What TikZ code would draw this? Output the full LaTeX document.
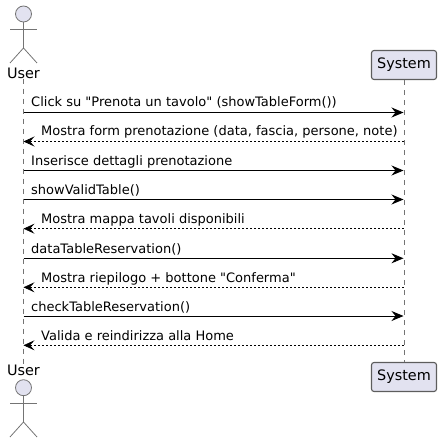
\documentclass[tikz,border=0pt]{standalone}
\usepackage{fontspec}
\setmainfont{DejaVu Sans}[Ligatures=TeXOff]
\usepackage{xcolor}
\usetikzlibrary{arrows.meta}
\definecolor{partfill}{HTML}{E2E2F0}
\definecolor{partline}{HTML}{181818}
\tikzset{
  partbox/.style={draw=partline!70,fill=partfill,rounded corners=2.5pt,line width=1.1pt,
    minimum width=65pt,minimum height=29pt,inner sep=0pt,font=\fontsize{14.4}{16}\selectfont},
  actorname/.style={inner sep=0pt,font=\fontsize{14.4}{16}\selectfont},
  actorline/.style={draw=partline!60,line width=.8pt},
  lifeline/.style={draw=partline!60,line width=.7pt,dash pattern=on 5pt off 5pt},
  callmsg/.style={draw=black,line width=.9pt,-{Stealth[length=12pt,width=10pt,inset=4pt]}},
  backmsg/.style={draw=black,line width=.7pt,dash pattern=on 2pt off 2pt,
    -{Stealth[length=11pt,width=10pt,inset=4.5pt]}},
  msgtext/.style={anchor=base west,inner sep=0pt,font=\fontsize{13}{14}\selectfont},
}
\begin{document}
\begin{tikzpicture}[x=1pt,y=-1pt]
  \useasboundingbox (0,0) rectangle (442,443);
  % participants
  \node[actorname] (usertop) at (23.5,73) {User};
  \node[actorname] (userbot) at (23.5,370) {User};
  \node[partbox] (systop) at (404,65) {System};
  \node[partbox] (sysbot) at (404,377) {System};
  % lifelines
  \draw[lifeline] (usertop.south) -- (userbot.north);
  \draw[lifeline] (systop.south) -- (sysbot.north);
  % actors
  \draw[actorline,fill=partfill] (23.5,14) circle (8);
  \draw[actorline] (23.5,22) -- (23.5,48) (10,29) -- (37,29);
  \draw[actorline] (10,63) -- (23.5,48) -- (37,63);
  \draw[actorline,fill=partfill] (23.5,387.7) circle (8);
  \draw[actorline] (23.5,395.7) -- (23.5,422) (10,403) -- (37,403);
  \draw[actorline] (10,437) -- (23.5,422) -- (37,437);
  % ends of the messages
  \coordinate (u1) at (23.5,112.5);
  \coordinate (s1) at (403.5,112.5);
  \coordinate (u2) at (23.5,141.5);
  \coordinate (s2) at (403.5,141.5);
  \coordinate (u3) at (23.5,170.5);
  \coordinate (s3) at (403.5,170.5);
  \coordinate (u4) at (23.5,199.5);
  \coordinate (s4) at (403.5,199.5);
  \coordinate (u5) at (23.5,228.7);
  \coordinate (s5) at (403.5,228.7);
  \coordinate (u6) at (23.5,258.3);
  \coordinate (s6) at (403.5,258.3);
  \coordinate (u7) at (23.5,287.3);
  \coordinate (s7) at (403.5,287.3);
  \coordinate (u8) at (23.5,316);
  \coordinate (s8) at (403.5,316);
  \coordinate (u9) at (23.5,345.3);
  \coordinate (s9) at (403.5,345.3);
  % messages
  \draw[callmsg] (u1) -- (s1);
  \draw[backmsg] (s2) -- (u2);
  \draw[callmsg] (u3) -- (s3);
  \draw[callmsg] (u4) -- (s4);
  \draw[backmsg] (s5) -- (u5);
  \draw[callmsg] (u6) -- (s6);
  \draw[backmsg] (s7) -- (u7);
  \draw[callmsg] (u8) -- (s8);
  \draw[backmsg] (s9) -- (u9);
  \node[msgtext] (m1) at (31,107) {Click su "Prenota un tavolo" (showTableForm())};
  \node[msgtext] (m2) at (41,136) {Mostra form prenotazione (data, fascia, persone, note)};
  \node[msgtext] (m3) at (31,165.5) {Inserisce dettagli prenotazione};
  \node[msgtext] (m4) at (31,194.5) {showValidTable()};
  \node[msgtext] (m5) at (41,223.5) {Mostra mappa tavoli disponibili};
  \node[msgtext] (m6) at (31,253) {dataTableReservation()};
  \node[msgtext] (m7) at (41,282) {Mostra riepilogo + bottone "Conferma"};
  \node[msgtext] (m8) at (31,311) {checkTableReservation()};
  \node[msgtext] (m9) at (41,340) {Valida e reindirizza alla Home};
\end{tikzpicture}
\end{document}
